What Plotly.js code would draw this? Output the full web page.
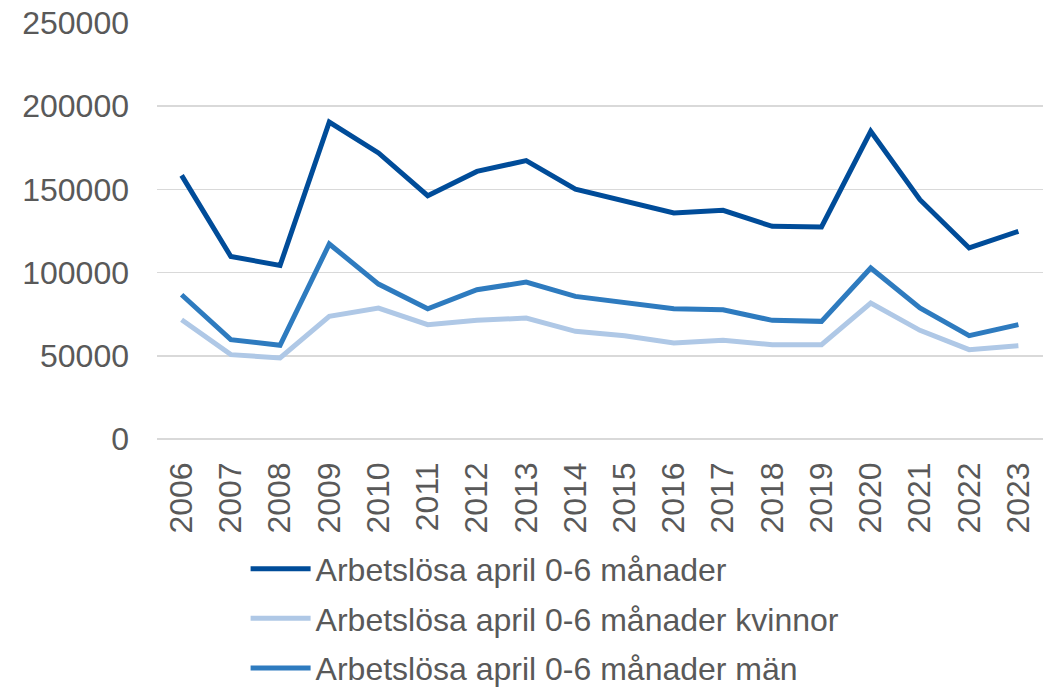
<!DOCTYPE html>
<html>
<head>
<meta charset="utf-8">
<script src="https://cdn.plot.ly/plotly-3.0.1.min.js"></script>
<style>html,body{margin:0;padding:0;background:#fff;}#chart{width:1043px;height:691px;}</style>
</head>
<body>
<div id="chart"></div>
<script>
const years = ["2006","2007","2008","2009","2010","2011","2012","2013","2014","2015","2016","2017","2018","2019","2020","2021","2022","2023"];
const totalt = [158400,109700,104300,190500,171900,146200,160800,167300,150200,143200,135800,137400,127800,127400,184900,143800,114800,124800];
const kvinnor = [71700,50700,48700,73700,78700,68700,71300,72700,64700,62100,57700,59300,56700,56700,81700,65300,53700,56100];
const man = [86700,59700,56300,117200,93100,78300,89700,94300,85700,81700,78300,77700,71300,70700,102800,78700,62100,68700];
const seriesNames = ["Arbetslösa april 0-6 månader","Arbetslösa april 0-6 månader kvinnor","Arbetslösa april 0-6 månader män"];
const yTicks = [0,50000,100000,150000,200000,250000];

const colors = ["#004C99","#AFC8E6","#2E7BBF"];
const data = [totalt, kvinnor, man].map((v,i)=>({
  x: years, y: v, type: "scatter", mode: "lines", name: seriesNames[i],
  legendgroup: "g" + i,
  line: {color: colors[i], width: 5}
}));

const layout = {
  width: 1043, height: 691,
  margin: {l: 157, r: 0, t: 23, b: 252},
  paper_bgcolor: "#fff", plot_bgcolor: "#fff",
  font: {family: "Liberation Sans, Arial, sans-serif", size: 32, color: "#595959"},
  showlegend: true,
  legend: {x: 0.1, xanchor: "left", yref: "container", y: 0.2165, yanchor: "top", orientation: "v",
           font: {size: 32, color: "#595959"}, tracegroupgap: 5, itemwidth: 60},
  xaxis: {type: "category", range: [-0.5, 17.5], tickangle: -90, showgrid: false, zeroline: false,
          showline: false, ticks: "", ticklabelstandoff: 16, tickfont: {size: 32, color: "#595959"}},
  yaxis: {range: [0, 250000], tickvals: yTicks, ticktext: yTicks.map(String),
          showgrid: true, gridcolor: "#d9d9d9", gridwidth: 1.5, zeroline: true,
          zerolinecolor: "#d9d9d9", zerolinewidth: 1.5, showline: false, ticks: "",
          ticklabelstandoff: 27, tickfont: {size: 32, color: "#595959"}}
};
Plotly.newPlot("chart", data, layout, {displayModeBar: false, staticPlot: true});
</script>
</body>
</html>
